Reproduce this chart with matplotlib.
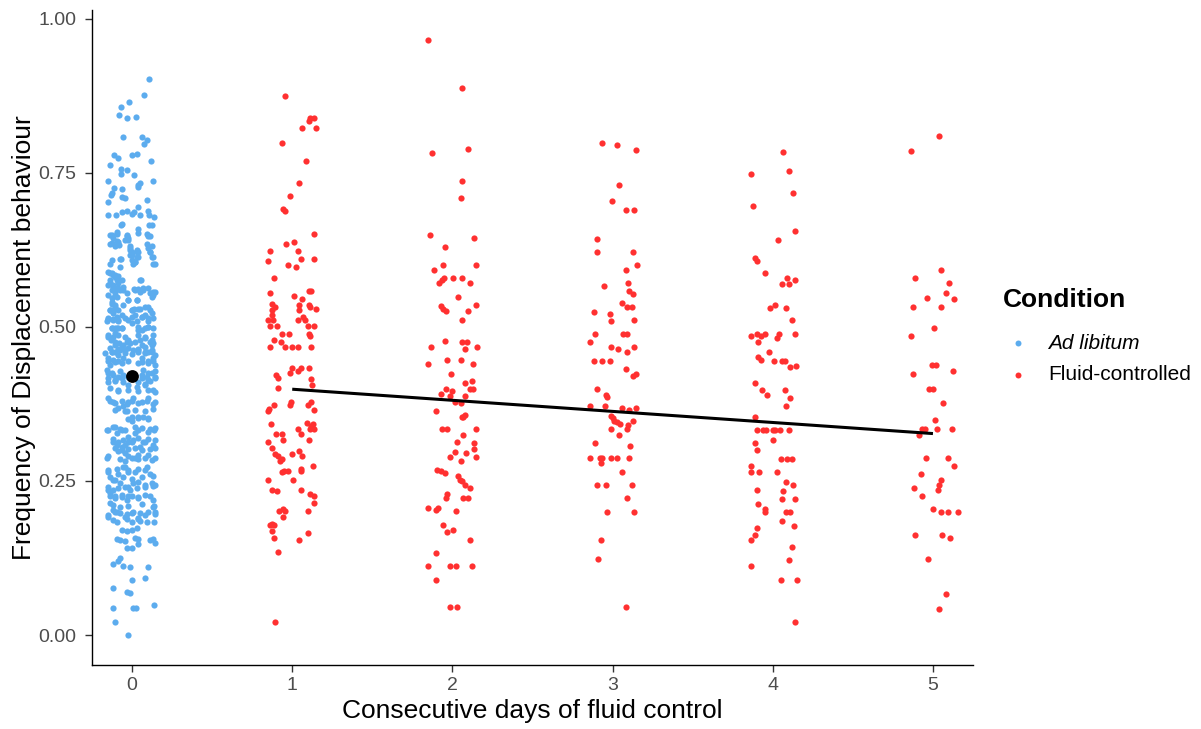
import matplotlib
matplotlib.use("Agg")
import matplotlib.pyplot as plt
from matplotlib.lines import Line2D
import numpy as np

plt.rcParams['font.family'] = ['Liberation Sans', 'DejaVu Sans']

# ---------------- data ----------------
conditions = ["Ad libitum", "Fluid-controlled"]
x_ticks = [0, 1, 2, 3, 4, 5]
y_ticks = [0.00, 0.25, 0.50, 0.75, 1.00]

# (jitter, frequency) for day 0 (Ad libitum)
adlib_points = [
    (0.106,0.903),(0.075,0.877),(-0.019,0.865),(-0.069,0.857),(-0.079,0.844),(-0.033,0.839),(0.023,0.841),
    (-0.054,0.809),(0.064,0.809),(0.095,0.804),(0.075,0.797),
    (-0.11,0.779),(-0.09,0.774),(0.0,0.779),(0.03,0.781),(0.117,0.770),(-0.137,0.763),
    (-0.069,0.756),(-0.069,0.748),(-0.03,0.755),(0.014,0.747),(-0.148,0.737),(0.133,0.737),
    (0.05,0.733),(0.035,0.728),(0.04,0.731),(-0.11,0.725),(-0.127,0.718),(-0.133,0.715),(-0.06,0.724),
    (-0.064,0.711),(-0.044,0.709),(0.092,0.706),(-0.148,0.703),(0.04,0.695),
    (-0.152,0.681),(-0.10,0.682),(-0.064,0.686),(-0.033,0.689),(0.0,0.683),(0.014,0.687),(0.05,0.682),
    (0.098,0.689),(0.106,0.682),(0.139,0.679),
    (-0.06,0.668),(-0.069,0.666),(0.106,0.666),(0.123,0.666),(-0.096,0.655),(0.04,0.659),
    (-0.137,0.649),(-0.117,0.644),(-0.096,0.639),(-0.127,0.636),(-0.081,0.633),
    (-0.033,0.649),(-0.023,0.644),(-0.044,0.641),(0.096,0.651),(0.112,0.647),
    (-0.012,0.628),(0.0,0.622),(-0.012,0.617),(0.0,0.609),
    (0.033,0.625),(0.04,0.621),(0.029,0.614),(0.018,0.606),(0.008,0.603),
    (0.102,0.628),(0.112,0.621),(0.123,0.614),(0.133,0.603),
    (-0.069,0.610),(-0.137,0.602),(-0.075,0.598),
    (-0.137,0.588),(-0.117,0.584),(-0.106,0.581),(-0.096,0.577),(0.056,0.577),
    (-0.137,0.571),(-0.117,0.568),(-0.085,0.571),(-0.054,0.565),(-0.096,0.563),(-0.075,0.560),(-0.106,0.557),(-0.127,0.560),
    (0.014,0.561),(0.04,0.561),(0.071,0.560),(0.102,0.563),(0.133,0.557),(0.123,0.549),
    (-0.148,0.552),(-0.127,0.547),(-0.096,0.548),(-0.023,0.544),(0.029,0.544),
    (-0.127,0.538),(-0.106,0.533),(-0.137,0.528),(-0.085,0.528),(-0.054,0.536),(-0.117,0.522),(-0.096,0.517),(-0.064,0.519),
    (0.0,0.528),(0.014,0.529),(0.05,0.530),(0.102,0.532),(0.127,0.522),(0.06,0.517),(0.081,0.519),
    (-0.148,0.513),(-0.117,0.513),(-0.158,0.509),(-0.085,0.509),(-0.023,0.511),(0.0,0.507),(0.029,0.509),(0.102,0.509),
    (-0.127,0.498),(-0.096,0.498),(-0.064,0.498),(-0.106,0.490),(0.04,0.500),(0.098,0.500),(0.06,0.495),(0.133,0.498),
    (-0.148,0.484),(-0.131,0.479),(-0.106,0.476),(-0.081,0.474),(-0.054,0.471),(-0.033,0.475),(-0.014,0.474),(0.019,0.476),
    (0.05,0.479),(0.081,0.482),(0.112,0.476),(0.133,0.474),
    (-0.137,0.466),(-0.106,0.460),(-0.075,0.463),(-0.023,0.466),(0.008,0.463),(0.04,0.463),(0.081,0.460),(0.123,0.463),
    (-0.169,0.458),(-0.127,0.460),(-0.085,0.455),(-0.044,0.458),(-0.002,0.456),(0.04,0.460),(0.081,0.457),(0.123,0.460),(0.144,0.455),
    (-0.148,0.445),(-0.106,0.443),(-0.064,0.441),(-0.023,0.445),(0.06,0.443),(0.102,0.441),(0.133,0.445),
    (-0.158,0.430),(-0.127,0.425),(-0.075,0.428),(0.071,0.430),(0.102,0.425),(0.144,0.428),
    (-0.148,0.410),(-0.106,0.412),(-0.054,0.410),(0.04,0.410),(0.081,0.408),(0.112,0.412),
    (-0.085,0.396),(-0.023,0.398),(0.04,0.396),(0.102,0.398),(0.144,0.394),
    (-0.137,0.380),(-0.106,0.377),(-0.064,0.380),(-0.033,0.375),(-0.002,0.380),(0.04,0.377),(0.092,0.380),(0.133,0.375),
    (-0.106,0.366),(-0.044,0.364),(0.019,0.365),(0.081,0.363),(0.133,0.367),
    (-0.023,0.351),(-0.002,0.348),(0.04,0.352),(0.102,0.350),
    (-0.158,0.333),(-0.106,0.338),(-0.075,0.335),(-0.044,0.332),(0.019,0.337),(0.04,0.333),(0.112,0.335),(0.139,0.333),
    (-0.117,0.318),(-0.085,0.314),(-0.054,0.317),(-0.023,0.313),(0.008,0.316),(0.04,0.319),(0.071,0.314),(0.102,0.318),(0.144,0.316),
    (-0.106,0.304),(-0.064,0.300),(-0.023,0.302),(0.019,0.304),(0.06,0.300),(0.112,0.302),(0.144,0.304),
    (-0.158,0.288),(-0.075,0.286),(-0.044,0.283),(-0.002,0.287),(0.04,0.286),(0.081,0.288),(0.123,0.284),
    (-0.148,0.268),(-0.096,0.270),(-0.054,0.272),(-0.023,0.268),(0.04,0.270),(0.092,0.272),
    (-0.137,0.256),(-0.106,0.251),(-0.054,0.256),(-0.002,0.253),(0.06,0.256),(0.133,0.258),
    (-0.148,0.240),(-0.117,0.235),(-0.085,0.238),(-0.044,0.240),(-0.012,0.235),(0.029,0.238),(0.081,0.240),(0.133,0.242),
    (-0.137,0.226),(-0.106,0.222),(-0.064,0.224),(-0.023,0.225),(0.04,0.224),(0.112,0.226),
    (-0.117,0.211),(-0.075,0.207),(-0.023,0.209),(0.06,0.213),(0.139,0.209),
    (-0.148,0.195),(-0.106,0.200),(-0.075,0.198),(-0.033,0.197),(-0.002,0.198),(0.05,0.198),(0.102,0.200),(0.144,0.197),
    (-0.117,0.187),(-0.096,0.183),(-0.033,0.188),(-0.002,0.183),(0.04,0.190),(0.05,0.185),(0.092,0.183),(0.139,0.183),
    (-0.064,0.171),(-0.033,0.169),(-0.002,0.171),(0.029,0.173),
    (-0.096,0.156),(-0.075,0.154),(-0.044,0.152),(0.019,0.158),(0.04,0.156),(0.112,0.154),(0.144,0.150),(0.133,0.156),
    (-0.033,0.141),(-0.002,0.142),(0.04,0.148),
    (-0.075,0.125),(-0.085,0.120),(-0.117,0.115),
    (-0.054,0.112),(-0.012,0.111),(0.098,0.111),
    (-0.002,0.089),(0.081,0.092),(-0.117,0.076),(-0.033,0.069),(-0.012,0.068),
    (-0.117,0.044),(0.008,0.044),(0.023,0.044),(0.139,0.048),
    (-0.106,0.021),(-0.023,0.0),
]

# further Ad libitum points read from the dense middle of the column
adlib_points_dense = [
    (-0.127,0.649),(-0.096,0.651),(-0.033,0.647),(0.04,0.652),(0.102,0.648),
    (-0.137,0.634),(-0.106,0.632),(-0.085,0.638),(-0.023,0.641),(-0.012,0.632),(0.092,0.634),(0.123,0.632),
    (-0.012,0.625),(-0.002,0.617),(0.029,0.622),(0.04,0.614),(0.019,0.606),(0.112,0.622),(0.133,0.614),
    (0.144,0.603),(-0.127,0.609),(-0.075,0.611),
    (-0.148,0.590),(-0.127,0.587),(-0.106,0.584),(-0.085,0.582),(-0.064,0.576),(0.05,0.576),(-0.137,0.576),
    (-0.148,0.568),(-0.117,0.565),(-0.085,0.563),(-0.054,0.560),(-0.033,0.555),(-0.106,0.552),(0.019,0.560),
    (0.05,0.557),(0.071,0.563),(0.112,0.555),(0.144,0.557),(0.133,0.552),
    (-0.127,0.541),(-0.106,0.536),(-0.023,0.544),(0.029,0.544),(-0.002,0.528),(0.04,0.530),(0.081,0.533),
    (0.112,0.528),(-0.137,0.528),(-0.106,0.530),
    (-0.148,0.514),(-0.117,0.511),(-0.085,0.511),(-0.044,0.514),(-0.002,0.517),(0.06,0.517),(0.102,0.514),
    (0.133,0.514),(0.019,0.519),
    (-0.127,0.498),(-0.106,0.498),(-0.085,0.498),(-0.064,0.498),(0.081,0.498),(0.102,0.500),(0.04,0.495),
    (-0.148,0.487),(-0.117,0.484),(-0.085,0.487),(-0.044,0.484),(-0.023,0.479),(0.04,0.487),(0.081,0.484),
    (0.123,0.479),(0.133,0.487),
    (-0.106,0.471),(-0.085,0.465),(-0.064,0.468),(-0.044,0.463),(0.04,0.465),(0.081,0.468),(0.102,0.460),
    (0.123,0.471),(0.06,0.471),(-0.127,0.460),
    (-0.148,0.449),(-0.117,0.446),(-0.085,0.444),(-0.054,0.449),(0.06,0.449),(0.102,0.444),(0.133,0.449),
    (0.144,0.438),(0.04,0.441),(-0.137,0.438),
    (-0.148,0.425),(-0.117,0.422),(-0.085,0.419),(-0.054,0.422),(-0.023,0.419),(0.06,0.422),(0.092,0.419),
    (0.123,0.425),(0.144,0.419),
    (-0.148,0.417),(-0.106,0.414),(-0.064,0.417),(0.06,0.417),(0.102,0.414),(0.144,0.417),(-0.137,0.401),
    (-0.085,0.398),(-0.023,0.406),(0.029,0.403),(0.081,0.406),(0.133,0.398),
    (-0.148,0.384),(-0.117,0.379),(-0.085,0.368),(-0.054,0.371),(-0.023,0.379),(0.008,0.384),(0.06,0.379),
    (0.102,0.384),(0.144,0.379),(-0.033,0.363),(-0.002,0.354),(0.04,0.354),(0.071,0.354),(0.102,0.352),
    (-0.148,0.333),(-0.117,0.338),(-0.096,0.328),(-0.064,0.333),(-0.023,0.322),(0.019,0.328),(0.06,0.336),
    (0.102,0.330),(0.144,0.336),(-0.117,0.314),(-0.096,0.308),(-0.064,0.306),(-0.044,0.308),(-0.002,0.314),
    (0.05,0.306),(0.081,0.314),(0.133,0.308),
    (-0.085,0.298),(-0.044,0.295),(0.04,0.292),(0.102,0.292),(0.144,0.287),(-0.148,0.290),(-0.023,0.290),(0.019,0.287),
    (-0.044,0.273),(-0.023,0.265),(0.019,0.265),(0.081,0.268),(0.112,0.262),(-0.085,0.262),(-0.148,0.265),
    (-0.117,0.252),(-0.075,0.246),(-0.023,0.241),(0.008,0.246),(0.04,0.249),(0.081,0.244),(0.123,0.246),
    (-0.148,0.236),(0.144,0.244),
    (-0.137,0.230),(-0.106,0.225),(-0.064,0.227),(-0.033,0.219),(-0.002,0.225),(0.04,0.222),(0.081,0.227),
    (0.133,0.219),(-0.137,0.214),
    (-0.117,0.203),(-0.096,0.200),(-0.044,0.192),(0.008,0.200),(0.04,0.189),(0.081,0.195),(0.133,0.208),
    (0.144,0.200),(-0.148,0.192),
]

day1_points = [
    (-0.045,0.875),(0.111,0.840),(0.138,0.840),(0.105,0.834),(0.063,0.823),(0.146,0.823),(-0.062,0.798),
    (0.086,0.769),(0.045,0.734),(-0.014,0.712),(-0.055,0.691),(-0.045,0.688),(0.138,0.651),(-0.039,0.635),
    (0.013,0.638),(-0.139,0.623),(0.038,0.623),(-0.149,0.607),(0.055,0.610),(0.138,0.611),(-0.028,0.600),
    (0.022,0.597),(-0.114,0.580),(-0.139,0.555),(0.013,0.551),(0.105,0.559),(0.115,0.559),(0.063,0.546),
    (-0.124,0.537),(-0.107,0.533),(-0.124,0.527),(0.042,0.535),(0.105,0.536),(0.111,0.533),(0.146,0.529),
    (0.042,0.527),(-0.149,0.512),(-0.118,0.512),(-0.128,0.519),(0.038,0.512),(0.069,0.516),(0.080,0.512),
    (-0.139,0.501),(-0.097,0.501),(0.096,0.501),(0.138,0.501),(-0.062,0.489),(-0.020,0.489),(0.105,0.489),
    (0.111,0.486),(-0.114,0.479),(-0.070,0.476),(-0.139,0.468),(-0.045,0.468),(-0.003,0.468),(0.038,0.468),
    (0.115,0.468),(-0.003,0.434),(0.055,0.434),(0.034,0.429),(-0.014,0.425),(0.105,0.434),(-0.103,0.422),
    (-0.091,0.418),(0.117,0.415),(0.122,0.406),(-0.091,0.401),(-0.145,0.367),(-0.149,0.364),(-0.114,0.374),
    (-0.007,0.378),(-0.014,0.374),(0.117,0.378),(0.101,0.374),(0.138,0.366),(-0.132,0.342),(0.090,0.344),
    (0.117,0.340),(0.132,0.342),(0.138,0.334),(0.111,0.334),(0.038,0.335),(0.055,0.327),(-0.103,0.327),
    (-0.062,0.327),(-0.055,0.317),(-0.149,0.313),(0.105,0.316),(-0.124,0.303),(-0.107,0.294),(-0.091,0.290),
    (-0.076,0.283),(-0.066,0.286),(-0.003,0.294),(0.045,0.298),(0.059,0.290),(-0.066,0.264),(-0.049,0.267),
    (-0.028,0.267),(0.053,0.270),(0.055,0.267),(0.132,0.275),(-0.149,0.252),(0.003,0.252),(-0.124,0.235),
    (-0.097,0.233),(0.055,0.235),(0.111,0.229),(0.138,0.225),(0.138,0.215),(-0.082,0.202),(-0.055,0.205),
    (-0.045,0.202),(-0.055,0.191),(0.096,0.202),(-0.139,0.179),(-0.124,0.180),(-0.112,0.178),(-0.128,0.169),
    (0.096,0.166),(-0.114,0.157),(0.045,0.154),(-0.087,0.135),(-0.107,0.021),
]

day2_points = [
    (-0.150,0.966),(0.062,0.888),(-0.125,0.783),(0.099,0.789),(0.062,0.737),(0.054,0.709),(-0.140,0.650),
    (0.137,0.644),(-0.046,0.630),(-0.115,0.592),(-0.057,0.600),(0.145,0.600),(-0.050,0.580),(-0.063,0.577),
    (-0.084,0.572),(0.002,0.580),(0.062,0.579),(0.110,0.572),(0.033,0.548),(-0.073,0.534),(-0.057,0.530),
    (-0.040,0.526),(0.095,0.526),(0.145,0.535),(0.062,0.511),(-0.046,0.478),(0.062,0.476),(0.089,0.476),
    (0.081,0.464),(-0.134,0.467),(0.151,0.467),(-0.150,0.440),(-0.032,0.446),(0.052,0.446),(0.127,0.440),
    (-0.009,0.423),(0.081,0.409),(0.123,0.413),(0.110,0.400),(0.131,0.400),(-0.040,0.400),(-0.005,0.396),
    (-0.073,0.392),(-0.015,0.388),(0.081,0.388),(0.016,0.379),(0.054,0.376),(-0.104,0.364),(0.081,0.357),
    (0.068,0.354),(0.058,0.354),(-0.067,0.335),(-0.032,0.335),(0.145,0.335),(0.068,0.324),(0.027,0.313),
    (0.137,0.311),(0.137,0.302),(0.016,0.297),(0.085,0.295),(-0.015,0.289),(0.145,0.289),(0.054,0.283),
    (-0.098,0.268),(-0.073,0.266),(-0.046,0.263),(0.037,0.258),(0.047,0.252),(0.058,0.250),(0.081,0.244),
    (0.110,0.238),(-0.032,0.229),(-0.040,0.223),(0.068,0.223),(0.099,0.223),(-0.150,0.206),(-0.104,0.203),
    (-0.088,0.206),(0.020,0.202),(-0.057,0.179),(-0.032,0.167),(0.002,0.171),(0.110,0.155),(-0.104,0.133),
    (-0.150,0.112),(-0.015,0.112),(0.020,0.112),(0.120,0.112),(-0.104,0.090),(-0.015,0.046),(0.027,0.046),
]

day3_points = [
    (-0.064,0.799),(0.025,0.795),(0.144,0.788),(0.042,0.731),(-0.006,0.704),(0.084,0.690),(0.134,0.690),
    (-0.099,0.643),(-0.099,0.621),(0.125,0.621),(0.154,0.600),(0.084,0.593),(-0.052,0.567),(0.094,0.571),
    (0.104,0.558),(0.129,0.553),(0.059,0.539),(0.092,0.532),(0.119,0.532),(-0.116,0.525),(-0.016,0.521),
    (-0.008,0.510),(0.136,0.512),(-0.108,0.488),(-0.141,0.475),(0.067,0.488),(0.088,0.488),(-0.008,0.467),
    (0.036,0.465),(0.092,0.460),(0.134,0.467),(-0.116,0.445),(-0.064,0.445),(-0.016,0.445),(0.084,0.432),
    (0.129,0.421),(0.144,0.423),(-0.099,0.399),(-0.041,0.390),(-0.033,0.387),(-0.141,0.371),(-0.050,0.372),
    (0.059,0.369),(0.102,0.365),(0.144,0.369),(-0.012,0.356),(0.0,0.352),(0.011,0.348),(0.025,0.345),
    (0.046,0.343),(0.094,0.341),(0.088,0.334),(0.125,0.348),(-0.008,0.334),(0.042,0.325),(-0.110,0.311),
    (0.109,0.307),(-0.141,0.287),(-0.079,0.287),(-0.064,0.287),(-0.075,0.280),(-0.008,0.287),(0.025,0.287),
    (0.102,0.287),(0.059,0.265),(-0.099,0.243),(-0.041,0.243),(0.119,0.243),(0.092,0.222),(-0.033,0.200),
    (0.134,0.200),(-0.075,0.154),(-0.091,0.123),(0.084,0.046),
]

day4_points = [
    (0.066,0.784),(-0.136,0.749),(0.101,0.753),(0.124,0.718),(-0.126,0.696),(0.141,0.656),(0.030,0.642),
    (-0.111,0.612),(-0.100,0.607),(-0.051,0.588),(0.091,0.580),(0.101,0.570),(0.055,0.570),(0.141,0.577),
    (-0.017,0.531),(0.016,0.535),(0.082,0.531),(0.118,0.511),(-0.136,0.485),(-0.100,0.488),(-0.074,0.485),
    (-0.049,0.488),(-0.095,0.475),(0.024,0.482),(0.041,0.488),(0.141,0.488),(-0.026,0.459),(-0.095,0.452),
    (-0.076,0.446),(0.008,0.444),(0.057,0.444),(0.076,0.444),(0.107,0.435),(0.143,0.437),(-0.111,0.409),
    (-0.067,0.398),(-0.034,0.389),(0.076,0.398),(0.107,0.385),(0.082,0.372),(-0.111,0.354),(-0.100,0.332),
    (-0.059,0.332),(-0.042,0.332),(-0.001,0.332),(0.014,0.332),(0.045,0.332),(0.101,0.332),(-0.001,0.317),
    (-0.113,0.311),(-0.100,0.300),(0.049,0.286),(0.087,0.286),(0.118,0.286),(-0.136,0.275),(-0.136,0.265),
    (-0.084,0.265),(0.024,0.265),(0.082,0.249),(0.124,0.243),(-0.100,0.236),(0.066,0.234),(0.057,0.221),
    (0.141,0.221),(-0.095,0.213),(-0.051,0.204),(-0.051,0.200),(0.082,0.200),(0.107,0.200),(0.057,0.185),
    (0.132,0.177),(-0.100,0.174),(-0.111,0.162),(-0.136,0.154),(0.118,0.143),(0.101,0.121),(-0.136,0.112),
    (0.049,0.089),(0.149,0.089),(0.141,0.021),
]

day5_points = [
    (0.040,0.810),(-0.137,0.786),(0.050,0.593),(-0.112,0.580),(0.100,0.572),(0.081,0.556),(-0.035,0.547),
    (0.133,0.545),(-0.127,0.532),(0.048,0.532),(0.006,0.499),(-0.137,0.486),(-0.008,0.439),(0.017,0.439),
    (-0.127,0.424),(0.123,0.428),(-0.023,0.399),(-0.002,0.399),(0.065,0.377),(0.015,0.349),(-0.067,0.334),
    (-0.050,0.334),(0.023,0.334),(0.117,0.334),(-0.085,0.325),(-0.044,0.288),(0.096,0.288),(0.131,0.274),
    (-0.077,0.261),(0.050,0.251),(0.040,0.244),(0.029,0.235),(-0.119,0.238),(-0.069,0.225),(-0.002,0.204),
    (0.050,0.200),(0.096,0.200),(0.158,0.200),(-0.112,0.163),(0.056,0.163),(0.106,0.158),(-0.029,0.124),
    (0.081,0.067),(0.040,0.043),
]

fluid_days = [1, 2, 3, 4, 5]
fluid_points = [day1_points, day2_points, day3_points, day4_points, day5_points]

adlib_mean = 0.42
fit_days = [1, 5]
fit_values = [0.399, 0.327]

# ---------------- styling ----------------
blue = "#5CACEE"
red = "#FF3030"
W, H = 1201, 729

fig = plt.figure(figsize=(W / 100, H / 100), dpi=100)
ax = fig.add_axes([92 / W, 64 / H, (973 - 92) / W, (719 - 64) / H])
ax.set_xlim(-0.25, 5.25)
ax.set_ylim(-0.0487, 1.0146)

pt_size = 20
all_adlib = adlib_points + adlib_points_dense
ax.scatter([0 + j for j, v in all_adlib], [v for j, v in all_adlib],
           s=pt_size, color=blue, linewidths=0, zorder=2)
for d, pts in zip(fluid_days, fluid_points):
    ax.scatter([d + j for j, v in pts], [v for j, v in pts],
               s=pt_size, color=red, linewidths=0, zorder=2)

ax.plot(fit_days, fit_values, color="black", lw=2.2, zorder=3, solid_capstyle="butt")
ax.scatter([0], [adlib_mean], s=85, color="black", linewidths=0, zorder=4)

for side in ["top", "right"]:
    ax.spines[side].set_visible(False)
for side in ["left", "bottom"]:
    ax.spines[side].set_color("black")
    ax.spines[side].set_linewidth(1.0)

ax.set_xticks(x_ticks)
ax.set_xticklabels([str(t) for t in x_ticks])
ax.set_yticks(y_ticks)
ax.set_yticklabels([f"{t:.2f}" for t in y_ticks])
ax.tick_params(length=5, width=1, color="#333333", labelcolor="#4D4D4D", labelsize=14)
ax.tick_params(axis="y", pad=6)
ax.tick_params(axis="x", pad=4)

ax.set_xlabel("Consecutive days of fluid control", fontsize=19, color="black", labelpad=3)
ax.set_ylabel("Frequency of Displacement behaviour", fontsize=19, color="black", labelpad=2)

# legend (manual)
fig.text(1003 / W, 1 - 300 / H, "Condition", fontsize=19, fontweight="bold", va="center", ha="left")
for yy, col, lab, style in [(343, blue, conditions[0], "italic"), (375, red, conditions[1], "normal")]:
    fig.add_artist(Line2D([1018 / W], [1 - yy / H], marker="o", markersize=4.3,
                          color=col, markeredgewidth=0, linestyle="none", transform=fig.transFigure))
    fig.text(1048 / W, 1 - yy / H, lab, fontsize=15, style=style, va="center", ha="left")

fig.savefig("out.png", dpi=100)
